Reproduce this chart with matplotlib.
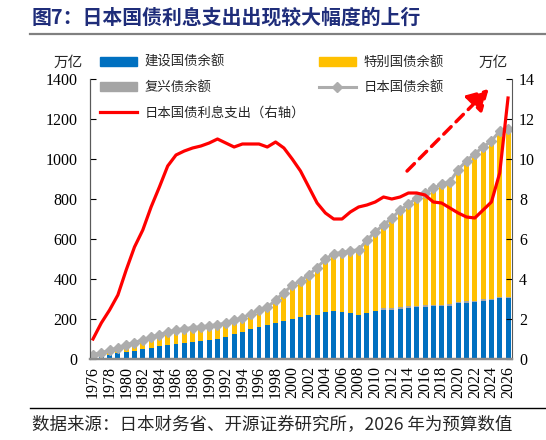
import matplotlib
matplotlib.use('Agg')
import matplotlib.pyplot as plt
import numpy as np
from matplotlib.lines import Line2D
from matplotlib.patches import Patch

# 年份 1976-2026
years = list(range(1976, 2027))

# 建设国债余额（万亿日元）
construction = [12, 17, 22, 28, 35, 42, 49, 56, 63, 70,
                75, 80, 85, 90, 95, 102, 112, 125, 137, 152,
                162, 170, 182, 192, 202, 212, 218, 221, 235, 242,
                237, 231, 221, 232, 241, 243, 246, 252, 256, 261,
                262, 264, 266, 267, 278, 282, 286, 292, 297, 307,
                307]

# 复兴债余额
reconstruction = [0] * 35 + [11, 10, 9, 8, 6, 7, 6, 6, 6, 6, 6, 6, 6, 5, 5, 5]

# 特别国债余额
special = [10, 15, 21, 28, 36, 40, 47, 54, 59, 64,
           70, 72, 72, 71, 71, 70, 66, 68, 70, 73,
           83, 88, 113, 140, 166, 180, 203, 236, 264, 285,
           295, 310, 325, 362, 395, 416, 449, 483, 510, 538,
           562, 583, 602, 614, 663, 703, 735, 762, 788, 828,
           836]

# 日本国债余额
total_debt = [22, 32, 43, 56, 71, 82, 96, 110, 122, 134,
              145, 152, 157, 161, 166, 172, 178, 193, 207, 225,
              245, 258, 295, 332, 368, 392, 421, 457, 499, 527,
              532, 541, 546, 594, 636, 670, 705, 744, 774, 805,
              831, 853, 874, 887, 947, 991, 1027, 1060, 1090, 1140,
              1148]

# 日本国债利息支出（右轴，万亿）
interest = [1.0, 1.8, 2.45, 3.2, 4.45, 5.6, 6.45, 7.6, 8.6, 9.65,
            10.2, 10.4, 10.55, 10.65, 10.8, 11.0, 10.8, 10.6, 10.75, 10.75,
            10.75, 10.6, 10.85, 10.55, 10.0, 9.4, 8.6, 7.8, 7.3, 7.0,
            7.0, 7.35, 7.6, 7.7, 7.85, 8.1, 8.0, 8.1, 8.3, 8.3,
            8.2, 7.85, 7.8, 7.55, 7.3, 7.1, 7.05, 7.45, 7.85, 9.3,
            13.05]

plt.rcParams['font.family'] = ['Noto Sans CJK SC', 'DejaVu Sans']
serif = 'Liberation Serif'
spine_c = '#595959'

fig = plt.figure(figsize=(5.46, 4.40), dpi=100)
ax = fig.add_axes([90 / 546, 1 - 359 / 440, 422 / 546, 280 / 440])

x = np.arange(len(years))
base2 = np.array(construction) + np.array(reconstruction)
ax.bar(x, construction, width=0.6, color='#0070C0', zorder=2)
ax.bar(x, reconstruction, width=0.6, bottom=construction, color='#A5A5A5', zorder=2)
ax.bar(x, special, width=0.6, bottom=base2, color='#FFC000', zorder=2)
ax.plot(x, total_debt, color='#ADADAD', lw=2.2, marker='D', ms=5, zorder=3)

# 红色虚线箭头
ax.annotate('', xy=(47.9, 1360), xytext=(37.6, 930),
            arrowprops=dict(arrowstyle='-|>,head_length=0.7,head_width=0.4',
                            color='#FF0000', lw=2.5, linestyle=(0, (3, 2)),
                            mutation_scale=18))

ax.set_xlim(-0.36, 50.48)
ax.set_ylim(0, 1400)
ax.set_xticks(x)
ax.set_xticklabels([str(y) if y % 2 == 0 else '' for y in years],
                   rotation=90, fontfamily=serif, fontsize=11.5)
ax.set_yticks(np.arange(0, 1401, 200))
ax.set_yticklabels([str(v) for v in range(0, 1401, 200)], fontfamily=serif, fontsize=11.5)
ax.tick_params(axis='y', direction='in', length=4, pad=9, colors='black')
ax.tick_params(axis='x', direction='in', length=3, pad=5)

ax2 = ax.twinx()
ax2.plot(x, interest, color='#FF0000', lw=2.3, solid_joinstyle='round', zorder=4)
ax2.set_ylim(0, 14)
ax2.set_yticks(np.arange(0, 15, 2))
ax2.set_yticklabels([str(v) for v in range(0, 15, 2)], fontfamily=serif, fontsize=11.5)
ax2.tick_params(axis='y', direction='in', length=4, pad=5)

for a in (ax, ax2):
    a.spines['top'].set_visible(False)
    a.spines['left'].set_color(spine_c)
    a.spines['right'].set_color(spine_c)
    a.spines['bottom'].set_color('#8C8C8C')
    a.spines['bottom'].set_linewidth(1.6)
ax.spines['right'].set_visible(False)

fig.text(68 / 546, 1 - 63 / 440, '万亿', fontsize=10.5, ha='center', va='center', color='#262626')
fig.text(493 / 546, 1 - 63 / 440, '万亿', fontsize=10.5, ha='center', va='center', color='#262626')

handles = [Patch(color='#0070C0'), Patch(color='#A5A5A5'),
           Line2D([], [], color='#FF0000', lw=2.3),
           Patch(color='#FFC000'),
           Line2D([], [], color='#ADADAD', lw=2.2, marker='D', ms=5)]
labels = ['建设国债余额', '复兴债余额', '日本国债利息支出（右轴）', '特别国债余额', '日本国债余额']
leg = fig.legend(handles, labels, ncol=2, loc='upper left',
                 bbox_to_anchor=(100 / 546, 1 - 55 / 440), frameon=False,
                 fontsize=9.6, handlelength=2.8, handletextpad=0.55,
                 labelspacing=0.85, columnspacing=1.0, borderaxespad=0, borderpad=0)
for t in leg.get_texts():
    t.set_color('#262626')

fig.text(32 / 546, 1 - 17 / 440, '图7：日本国债利息支出出现较大幅度的上行',
         fontsize=14.3, fontweight='bold', color='#1F2D7A', va='center')
fig.add_artist(Line2D([30 / 546, 1], [1 - 34 / 440] * 2, color='#808080', lw=1.6))
fig.add_artist(Line2D([30 / 546, 1], [1 - 408 / 440] * 2, color='black', lw=1.0))
fig.text(32 / 546, 1 - 425 / 440, '数据来源：日本财务省、开源证券研究所，2026 年为预算数值',
         fontsize=12.6, color='#262626', va='center')

fig.savefig('out.png', dpi=100)
